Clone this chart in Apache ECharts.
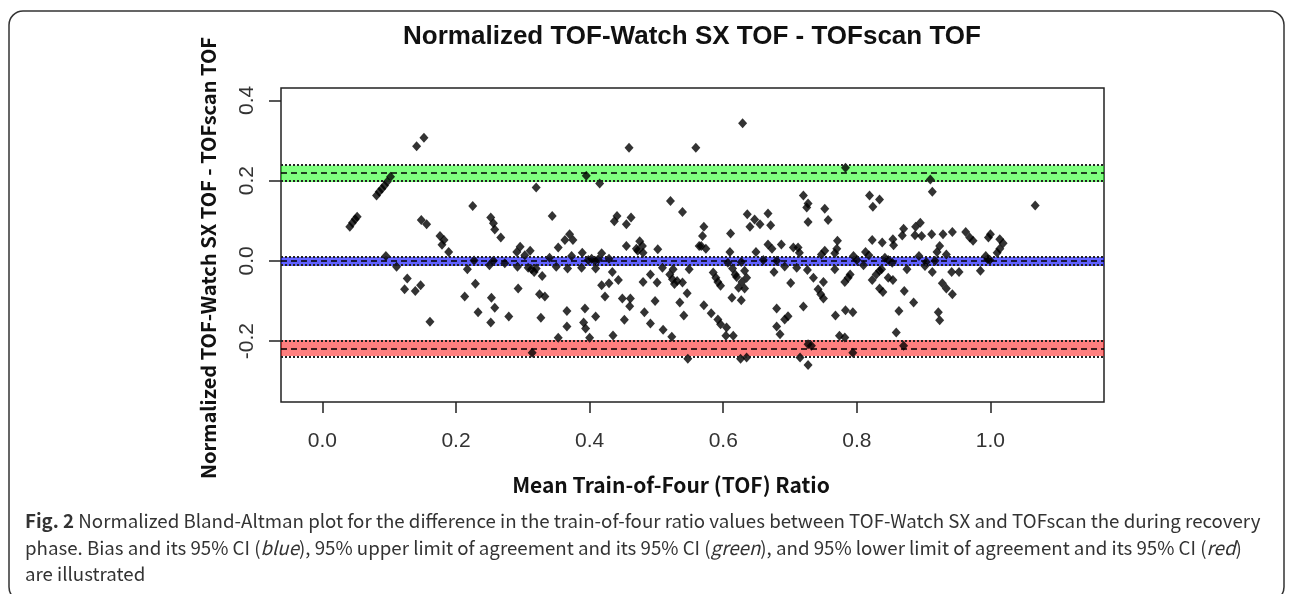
<!DOCTYPE html>
<html>
<head>
<meta charset="utf-8">
<script src="https://cdn.jsdelivr.net/npm/echarts@6.0.0/dist/echarts.min.js"></script>
<style>
  html, body { margin: 0; padding: 0; background: #fff; }
  #chart-container { width: 1290px; height: 594px; }
</style>
</head>
<body>
<div id="chart-container"></div>
<script>
// mean TOF ratio (x) and normalized difference (y)
const meanRatio = [
  0.152, 0.141, 0.081, 0.085, 0.089, 0.093, 0.097, 0.102, 0.041, 0.045, 0.049, 0.052,
  0.148, 0.156, 0.176, 0.182, 0.179, 0.189, 0.225, 0.095, 0.111, 0.127, 0.123, 0.139,
  0.147, 0.161, 0.227, 0.217, 0.229, 0.213, 0.233,
  0.252, 0.256, 0.258, 0.267, 0.253, 0.258, 0.252, 0.256, 0.250, 0.273, 0.279, 0.293,
  0.291, 0.296, 0.292, 0.303, 0.311, 0.320, 0.314, 0.308, 0.313, 0.317, 0.320, 0.329,
  0.325, 0.333, 0.327, 0.344, 0.340, 0.353, 0.350, 0.366, 0.366, 0.353, 0.363, 0.370,
  0.375, 0.373, 0.367, 0.388, 0.389, 0.395, 0.393, 0.409, 0.391, 0.394, 0.400, 0.398,
  0.403, 0.408, 0.413, 0.418, 0.409, 0.415, 0.429, 0.418, 0.429, 0.423, 0.434, 0.443,
  0.435, 0.437, 0.441, 0.455, 0.462, 0.459, 0.449, 0.461, 0.460, 0.455, 0.452, 0.470,
  0.475, 0.479, 0.472, 0.480, 0.482, 0.491, 0.480, 0.491, 0.501, 0.498, 0.502, 0.509,
  0.510, 0.523, 0.521, 0.539, 0.520, 0.524, 0.527, 0.531, 0.525, 0.539, 0.546, 0.535,
  0.541, 0.547, 0.549, 0.559, 0.564,
  0.629, 0.571, 0.569, 0.567, 0.574, 0.571, 0.582, 0.592, 0.596, 0.605, 0.604, 0.615,
  0.626, 0.635, 0.611, 0.610, 0.607, 0.627, 0.614, 0.618, 0.620, 0.585, 0.589, 0.592,
  0.596, 0.632, 0.635, 0.628, 0.623, 0.632, 0.613, 0.627, 0.636, 0.640, 0.647, 0.655,
  0.667, 0.671, 0.649, 0.660, 0.667, 0.673, 0.687, 0.676, 0.680, 0.692, 0.680, 0.680,
  0.685, 0.692, 0.697, 0.701, 0.705, 0.712, 0.714, 0.710, 0.720, 0.727, 0.725, 0.727,
  0.726, 0.720, 0.715, 0.727, 0.727, 0.732, 0.735, 0.742, 0.746, 0.750, 0.750, 0.752,
  0.757, 0.747, 0.752, 0.767, 0.771, 0.770, 0.767, 0.768, 0.783, 0.794, 0.774, 0.782,
  0.783, 0.782, 0.787, 0.790, 0.794, 0.795, 0.800, 0.810, 0.813, 0.818, 0.819, 0.824,
  0.834, 0.823, 0.838, 0.823, 0.829, 0.834, 0.837, 0.842, 0.834, 0.839, 0.847, 0.853,
  0.847, 0.854, 0.854, 0.855, 0.868, 0.870, 0.863, 0.859, 0.870, 0.871, 0.875,
  0.910, 0.913, 1.067, 0.895, 0.888, 0.887, 0.897, 0.912, 0.929, 0.943, 0.963, 0.969,
  0.974, 0.997, 1.000, 1.014, 1.019, 1.014, 1.010, 0.924, 0.920, 0.934, 0.893, 0.902,
  0.904, 0.917, 0.913, 0.942, 0.953, 0.985, 0.993, 0.996, 0.999, 0.928, 0.934, 0.943,
  0.885, 0.922, 0.924
];
const normDiff = [
  0.307, 0.286, 0.163, 0.172, 0.180, 0.188, 0.197, 0.210, 0.085, 0.095, 0.104, 0.110,
  0.102, 0.091, 0.062, 0.052, 0.040, 0.022, 0.137, 0.012, -0.015, -0.044, -0.071, -0.075,
  -0.061, -0.152, 0.001, -0.021, -0.057, -0.089, -0.128,
  0.108, 0.094, 0.078, 0.058, -0.092, -0.117, -0.154, 0.000, -0.011, -0.006, -0.139, -0.069,
  0.022, 0.035, -0.015, 0.014, 0.025, 0.183, -0.229, -0.017, -0.021, -0.028, -0.019, -0.038,
  -0.083, -0.089, -0.142, 0.112, 0.008, 0.033, -0.015, -0.125, -0.164, -0.192, 0.052, 0.066,
  0.052, 0.012, -0.019, -0.017, 0.020, 0.212, -0.119, -0.139, -0.154, -0.169, -0.192, 0.002,
  0.005, 0.000, 0.004, 0.019, -0.019, 0.193, 0.005, -0.061, -0.056, -0.089, -0.028, -0.048,
  -0.186, 0.099, 0.112, 0.091, 0.108, 0.282, -0.094, -0.094, -0.113, 0.037, -0.147, 0.030,
  0.049, 0.037, 0.025, 0.020, -0.128, -0.156, -0.053, -0.034, -0.054, -0.100, 0.029, -0.017,
  -0.172, -0.189, 0.149, 0.122, -0.034, -0.046, -0.058, -0.050, -0.021, -0.054, -0.081, -0.104,
  -0.136, -0.244, -0.021, 0.282, 0.037,
  0.343, 0.085, 0.062, 0.037, 0.030, -0.111, -0.131, -0.146, -0.158, -0.166, -0.187, -0.187,
  -0.244, -0.241, 0.068, 0.022, -0.005, -0.003, -0.019, -0.034, -0.040, -0.029, -0.042, -0.053,
  -0.062, -0.025, -0.042, -0.053, -0.067, -0.069, -0.092, -0.098, 0.116, 0.085, 0.103, 0.091,
  0.118, 0.089, 0.022, 0.002, 0.041, 0.030, 0.041, -0.028, 0.000, -0.014, -0.119, -0.164,
  -0.183, -0.146, -0.138, -0.055, 0.033, 0.033, 0.020, -0.017, 0.163, 0.143, 0.133, 0.097,
  -0.023, -0.114, -0.241, -0.260, -0.208, -0.212, -0.042, -0.071, -0.083, -0.094, -0.053, 0.130,
  0.102, 0.016, 0.025, -0.021, 0.050, 0.030, 0.019, -0.136, -0.123, -0.128, -0.187, -0.191,
  0.232, -0.053, -0.042, -0.034, -0.229, 0.012, 0.002, -0.011, 0.022, 0.014, 0.163, 0.135,
  0.153, 0.052, 0.046, -0.048, -0.034, -0.025, -0.021, 0.008, -0.069, -0.078, 0.002, -0.005,
  -0.042, -0.048, 0.054, 0.039, 0.063, 0.080, -0.125, -0.179, -0.212, -0.075, -0.021,
  0.203, 0.172, 0.138, 0.095, 0.085, 0.064, 0.062, 0.066, 0.066, 0.072, 0.072, 0.058,
  0.050, 0.058, 0.066, 0.054, 0.044, 0.030, 0.020, 0.037, 0.022, 0.016, 0.012, -0.013,
  -0.003, 0.000, -0.028, -0.028, -0.028, -0.025, 0.012, 0.004, 0.002, -0.056, -0.069, -0.083,
  -0.104, -0.128, -0.148
];

const xTicks = [0, 0.2, 0.4, 0.6, 0.8, 1.0];
const yTicks = [-0.2, 0, 0.2, 0.4];

// bias, limits of agreement and their 95% CIs
const bias = -0.001;
const biasCI = [-0.013, 0.0095];
const upperLoA = 0.218;
const upperCI = [0.1965, 0.238];
const lowerLoA = -0.2175;
const lowerCI = [-0.2374, -0.1975];

const points = meanRatio.map((x, i) => [x, normDiff[i]]);

const chart = echarts.init(document.getElementById('chart-container'));

const option = {
  animation: false,
  grid: {
    left: 281, right: 186, top: 88, bottom: 192,
    show: true, borderColor: '#222', borderWidth: 1.5, backgroundColor: 'transparent'
  },
  xAxis: {
    type: 'value', min: -0.062, max: 1.170,
    splitLine: { show: false },
    axisLine: { show: false, onZero: false },
    axisTick: { show: true, customValues: xTicks, length: 11, lineStyle: { color: '#222', width: 1.5 } },
    axisLabel: {
      customValues: xTicks, margin: 29,
      formatter: v => v.toFixed(1),
      fontFamily: 'Liberation Sans', fontSize: 21, color: '#333'
    }
  },
  yAxis: {
    type: 'value', min: -0.352, max: 0.431,
    splitLine: { show: false },
    axisLine: { show: false, onZero: false },
    axisTick: { show: true, customValues: yTicks, length: 12, lineStyle: { color: '#222', width: 1.5 } },
    axisLabel: {
      customValues: yTicks, margin: 23, rotate: 90,
      formatter: v => v.toFixed(1),
      fontFamily: 'Liberation Sans', fontSize: 21, color: '#333'
    }
  },
  series: [
    {
      type: 'scatter',
      data: points,
      symbol: 'diamond',
      symbolSize: [9, 10],
      itemStyle: { color: '#000' },
      z: 2
    },
    {
      // mean lines, drawn under the bands
      type: 'line', data: [], z: 2,
      markLine: {
        silent: true, symbol: ['none', 'none'], label: { show: false },
        lineStyle: { color: '#000', type: [6, 4], width: 1.5 },
        data: [{ yAxis: bias }, { yAxis: upperLoA }, { yAxis: lowerLoA }]
      }
    },
    {
      type: 'line', data: [], z: 3,
      markArea: {
        silent: true,
        data: [
          [{ yAxis: upperCI[0], itemStyle: { color: 'rgba(0,255,0,0.5)' } }, { yAxis: upperCI[1] }],
          [{ yAxis: biasCI[0], itemStyle: { color: 'rgba(0,0,255,0.62)' } }, { yAxis: biasCI[1] }],
          [{ yAxis: lowerCI[0], itemStyle: { color: 'rgba(255,0,0,0.5)' } }, { yAxis: lowerCI[1] }]
        ]
      }
    },
    {
      // CI borders, dotted
      type: 'line', data: [], z: 4,
      markLine: {
        silent: true, symbol: ['none', 'none'], label: { show: false },
        lineStyle: { color: '#222', type: [2, 2], width: 2 },
        data: [
          { yAxis: upperCI[0] }, { yAxis: upperCI[1] },
          { yAxis: biasCI[0] }, { yAxis: biasCI[1] },
          { yAxis: lowerCI[0] }, { yAxis: lowerCI[1] }
        ]
      }
    }
  ],
  graphic: [
    {
      type: 'rect', silent: true,
      shape: { x: 9, y: 11, width: 1275, height: 590, r: 14 },
      style: { fill: 'none', stroke: '#333', lineWidth: 1.5 }
    },
    {
      type: 'text', x: 692, y: 37,
      style: {
        text: 'Normalized TOF-Watch SX TOF - TOFscan TOF',
        font: 'bold 26px "Liberation Sans"', fill: '#111',
        textAlign: 'center', textVerticalAlign: 'middle'
      }
    },
    {
      type: 'text', x: 208, y: 258, rotation: Math.PI / 2,
      style: {
        text: 'Normalized TOF-Watch SX TOF - TOFscan TOF',
        font: 'bold 20px "Noto Sans CJK KR"', fill: '#111',
        textAlign: 'center', textVerticalAlign: 'middle'
      }
    },
    {
      type: 'text', x: 671, y: 485,
      style: {
        text: 'Mean Train-of-Four (TOF) Ratio',
        font: 'bold 21px "Noto Sans CJK KR"', fill: '#111',
        textAlign: 'center', textVerticalAlign: 'middle'
      }
    },
    {
      type: 'text', x: 25, y: 521,
      style: {
        text: '{b|Fig. 2} Normalized Bland-Altman plot for the difference in the train-of-four ratio values between TOF-Watch SX and TOFscan the during recovery',
        font: '18.7px "Noto Sans CJK KR"', fill: '#333', textVerticalAlign: 'middle',
        rich: { b: { fontFamily: 'Noto Sans CJK KR', fontSize: 18.7, fontWeight: 'bold', color: '#222' } }
      }
    },
    {
      type: 'text', x: 25, y: 548,
      style: {
        text: 'phase. Bias and its 95% CI ({i|blue}), 95% upper limit of agreement and its 95% CI ({i|green}), and 95% lower limit of agreement and its 95% CI ({i|red})',
        font: '18.7px "Noto Sans CJK KR"', fill: '#333', textVerticalAlign: 'middle',
        rich: { i: { fontFamily: 'Noto Sans CJK KR', fontSize: 18.7, fontStyle: 'italic', color: '#333' } }
      }
    },
    {
      type: 'text', x: 25, y: 574,
      style: {
        text: 'are illustrated',
        font: '18.7px "Noto Sans CJK KR"', fill: '#333', textVerticalAlign: 'middle'
      }
    }
  ]
};

chart.setOption(option);
</script>
</body>
</html>
